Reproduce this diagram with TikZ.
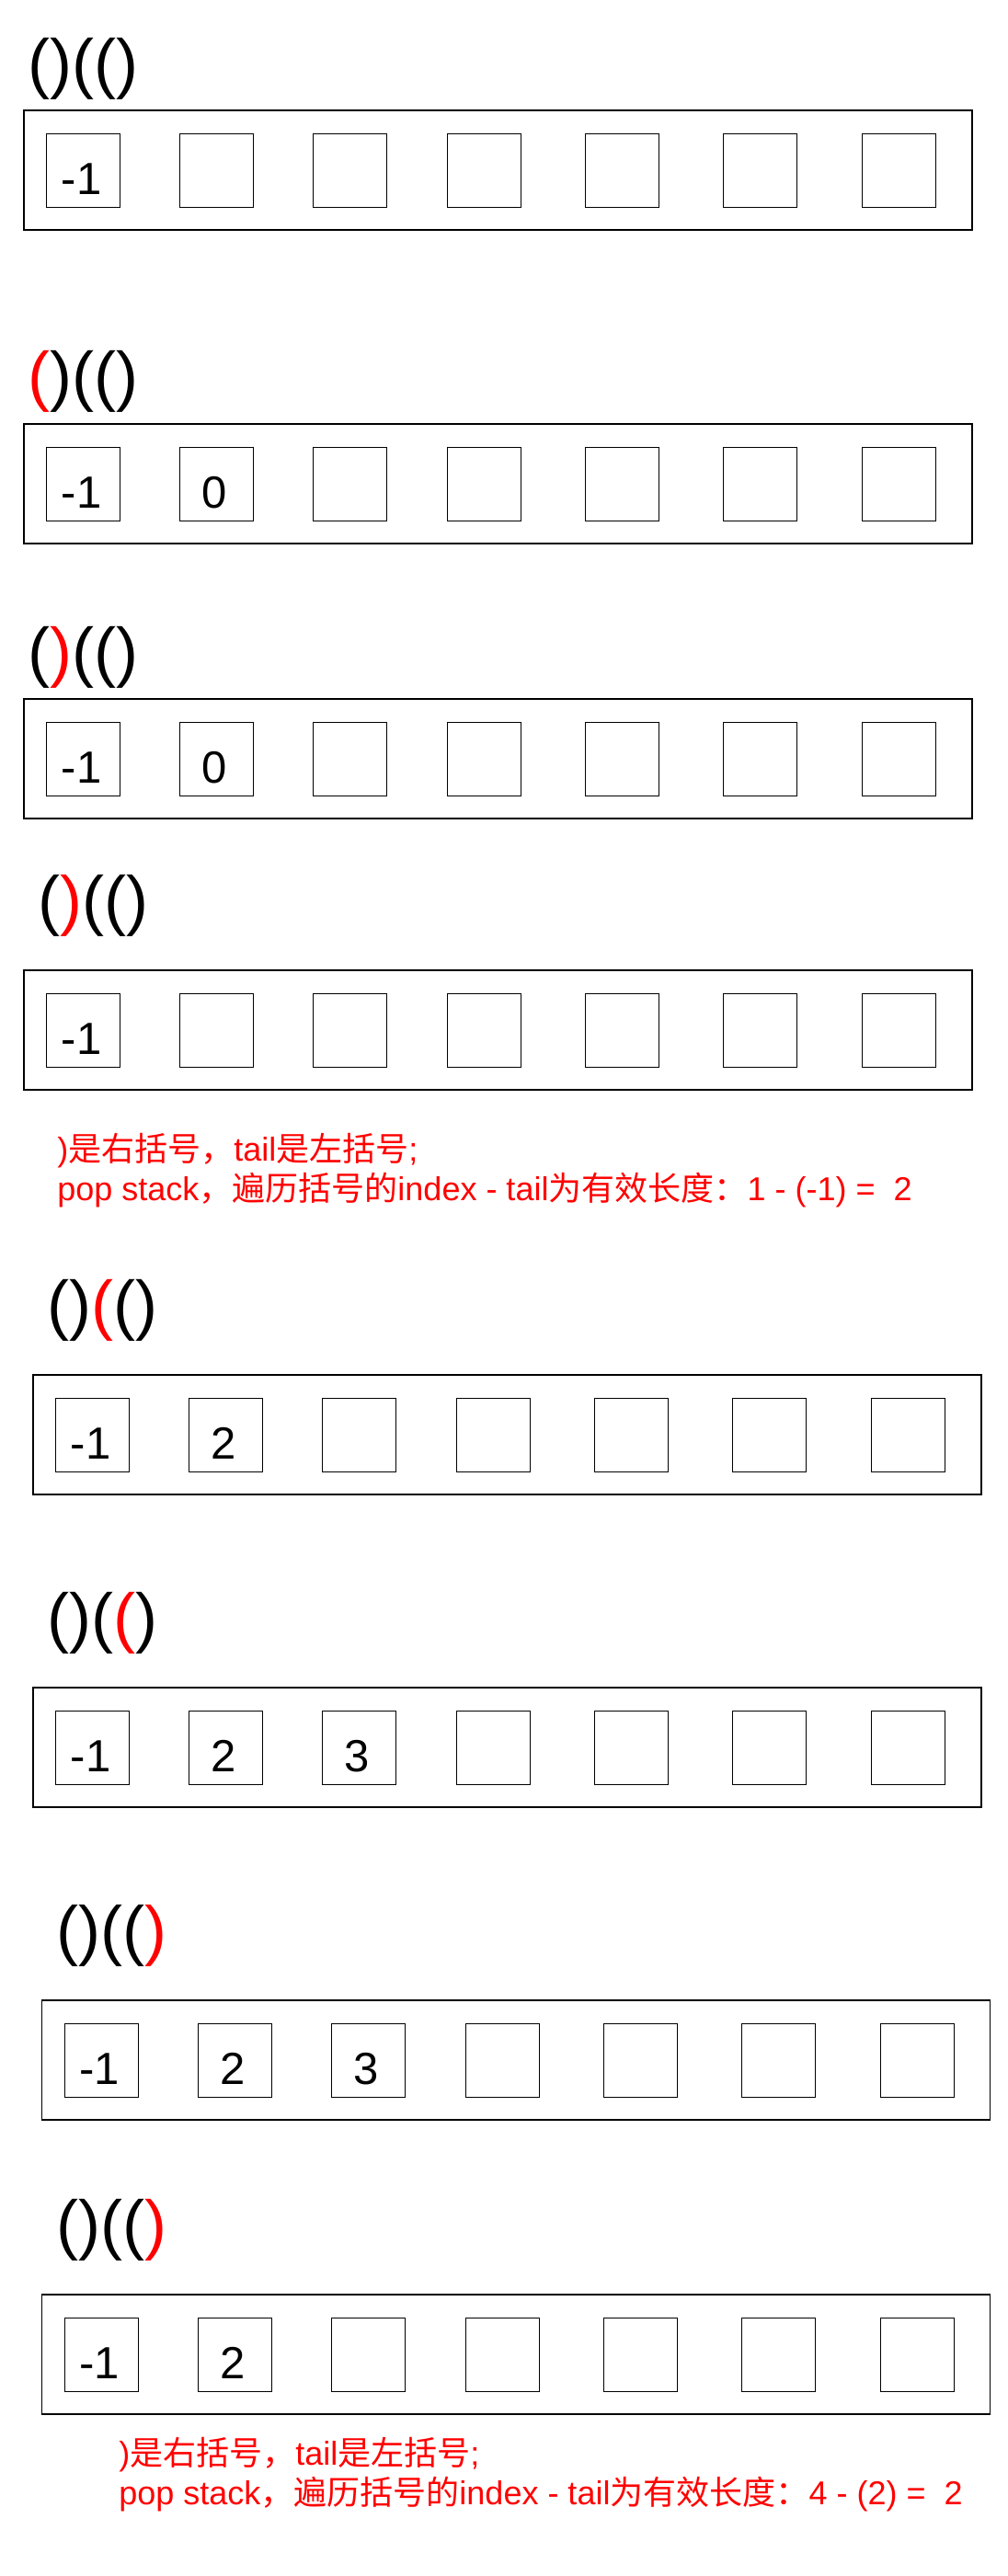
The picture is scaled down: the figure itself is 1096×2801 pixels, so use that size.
\documentclass[tikz,border=0pt]{standalone}
\usepackage{fontspec}
\setmainfont{Liberation Sans}
\newfontfamily\cjk{Noto Sans CJK SC}
\usepackage{tikz}
\usetikzlibrary{positioning}
\definecolor{hot}{HTML}{FF0000}
\newcommand\zh[1]{{\cjk #1}}
\newcommand\hl[1]{\textcolor{hot}{#1}}

\begin{document}
\begin{tikzpicture}[x=0.5pt,y=-0.5pt,
    row/.style={draw,line width=0.75pt},
    cell/.style={draw,line width=0.6pt,minimum size=40pt,inner sep=0pt,anchor=north west},
    val/.style={inner sep=0pt,anchor=base,font=\fontsize{24.5pt}{28pt}\selectfont},
    title/.style={inner sep=0pt,anchor=base west,font=\fontsize{36pt}{40pt}\selectfont},
    note/.style={hot,inner sep=0pt,anchor=base west,font=\fontsize{18pt}{21pt}\selectfont}]
  \useasboundingbox (0,0) rectangle (1096,2801);
  \foreach \n/\rx/\ry/\tx/\ty/\title/\cells in {%
    1/26/120/30.5/93.6/{()(()}/{-1},
    2/26/461/30.5/433.6/{\hl{(})(()}/{-1,0},
    3/26/760/30.5/733.6/{(\hl{)}(()}/{-1,0},
    4/26/1055/41.5/1003.6/{(\hl{)}(()}/{-1},
    5/36/1495/51.5/1443.6/{()\hl{(}()}/{-1,2},
    6/36/1835/51.5/1783.6/{()(\hl{(})}/{-1,2,3},
    7/45.5/2175/61.5/2123.6/{()((\hl{)}}/{-1,2,3},
    8/45.5/2495/61.5/2443.6/{()((\hl{)}}/{-1,2}}{
    \node[title] (t\n) at (\tx,\ty) {\title};
    \draw[row] (\rx,\ry) rectangle ++(1031,130);
    \foreach \dx [count=\i] in {24,169,314,460,610,760,911}
      \node[cell] (c\n-\i) at (\rx+\dx,\ry+25) {};
    \foreach \v [count=\i] in \cells
      \node[val] (v\n-\i) at ([xshift=-1pt,yshift=7.5pt]c\n-\i.south) {\v};}
  % what the pop means
  \node[note] (n4a) at (62,1262) {)\zh{是右括号，}tail\zh{是左括号};};
  \node[note] (n4b) at (62,1305)
    {pop stack\zh{，遍历括号的}index - tail\zh{为有效长度：}1 - (-1) =\ \ 2};
  \node[note] (n8a) at (129,2680) {)\zh{是右括号，}tail\zh{是左括号};};
  \node[note] (n8b) at (129,2723)
    {pop stack\zh{，遍历括号的}index - tail\zh{为有效长度：}4 - (2) =\ \ 2};
\end{tikzpicture}
\end{document}
